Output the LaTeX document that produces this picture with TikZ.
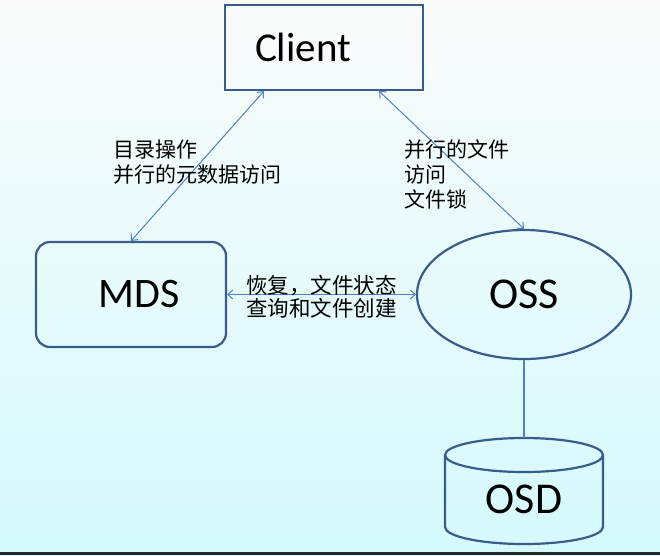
\documentclass[tikz,border=0pt]{standalone}
\usepackage{fontspec}
\setmainfont{Carlito}
\newfontfamily\cjk{Noto Sans CJK SC}
\usetikzlibrary{shapes.geometric,arrows.meta}
\definecolor{boxline}{RGB}{56,93,138}
\definecolor{linkline}{RGB}{79,129,189}
\definecolor{bgtop}{RGB}{251,251,251}
\definecolor{bgmid}{RGB}{238,242,243}
\definecolor{bgbot}{RGB}{212,250,253}

\begin{document}
\begin{tikzpicture}
    [x=1pt,y=-1pt,
    server/.style={draw=boxline,line width=2.2pt,text=black,inner sep=0pt},
    link/.style={draw=linkline,line width=1pt,
        {Straight Barb[length=5pt,width=9pt]}-{Straight Barb[length=5pt,width=9pt]}},
    note/.style={font=\cjk\fontsize{21}{25}\selectfont,align=left,anchor=north west,inner sep=0pt}]

    %\draw[help lines,step=50] (0,0) grid (660,555);
    \useasboundingbox (0,0) rectangle (660,555);
    \shade[top color=bgtop,middle color=bgmid,bottom color=bgbot] (0,0) rectangle (660,555);
    \draw[line width=3pt,black!85] (0,553.5) -- (660,553.5);

    \node[server,rectangle,minimum width=198pt,minimum height=85pt,inner xsep=30pt,
          text width=138pt,align=left,font=\fontsize{41}{48}\selectfont] (client) at (324,47.5) {Client};
    \node[server,rectangle,rounded corners=14pt,minimum width=190pt,minimum height=105pt,
          font=\fontsize{42}{48}\selectfont] (mds) at (131,294.5) {\hspace*{16pt}MDS};
    \node[server,ellipse,minimum width=214pt,minimum height=129pt,
          font=\fontsize{44}{50}\selectfont] (oss) at (524,294.5) {OSS};
    \node[minimum width=158pt,minimum height=106pt,inner sep=0pt,
          font=\fontsize{44}{50}\selectfont] (osd) at (524,491) {\raisebox{-8pt}[\height][\depth]{OSD}};

    % disk drawn round the osd node
    \draw[boxline,line width=2.2pt] (524,455) ellipse [x radius=79,y radius=17];
    \draw[boxline,line width=2.2pt] (445,455) -- (445,527)
          arc [start angle=180,end angle=0,x radius=79,y radius=17] -- (603,455);

    \draw[link] ([xshift=40pt]client.south west) -- (mds.north);
    \draw[link] ([xshift=-45pt]client.south east) -- (oss.north);
    \draw[link] (mds.east) -- (oss.west);
    \draw[draw=linkline,line width=1.2pt] (oss.south) -- (osd.north);

    \node[note] (mdsnote) at (113,140) {目录操作\\并行的元数据访问};
    \node[note] (ossnote) at (404,140) {并行的文件\\访问\\文件锁};
    \node[note,font=\cjk\fontsize{21.5}{23}\selectfont] (linknote) at (246,275) {恢复，文件状态\\查询和文件创建};
\end{tikzpicture}
\end{document}
